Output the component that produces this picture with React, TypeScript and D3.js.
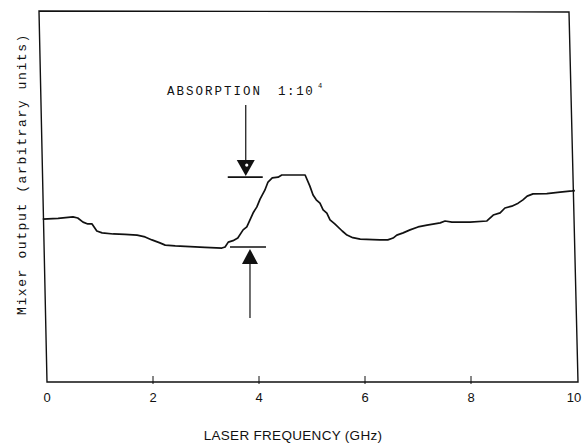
import React from "react";
import * as d3 from "d3";

// Laser frequency (GHz)
const freq = [
  -0.08, 0.21, 0.49, 0.58, 0.68, 0.77, 0.85, 0.94, 1.04, 1.25, 1.47, 1.7, 1.85, 1.98, 2.13, 2.23,
  2.42, 2.7, 2.98, 3.3, 3.36, 3.42, 3.51, 3.6, 3.7, 3.77, 3.89, 3.96, 4.02, 4.11, 4.17, 4.25,
  4.36, 4.43, 4.68, 4.87, 4.96, 5.02, 5.08, 5.15, 5.21, 5.28, 5.34, 5.43, 5.57, 5.66, 5.77, 5.91,
  6.15, 6.28, 6.43, 6.53, 6.6, 6.72, 6.85, 7.0, 7.17, 7.42, 7.51, 7.64, 7.98, 8.3, 8.42, 8.55,
  8.64, 8.77, 8.89, 8.98, 9.06, 9.17, 9.43, 9.68, 9.91, 9.96,
];
// Mixer output (arbitrary units)
const output = [
  4.39, 4.41, 4.45, 4.42, 4.31, 4.26, 4.26, 4.07, 4.02, 3.99, 3.98, 3.96, 3.91, 3.83, 3.75, 3.69,
  3.67, 3.65, 3.63, 3.61, 3.64, 3.77, 3.81, 3.88, 4.1, 4.18, 4.56, 4.72, 4.93, 5.17, 5.39, 5.5,
  5.52, 5.58, 5.58, 5.58, 5.28, 5.04, 4.91, 4.82, 4.64, 4.55, 4.37, 4.26, 4.07, 3.96, 3.89, 3.85,
  3.84, 3.83, 3.83, 3.88, 3.96, 4.02, 4.1, 4.18, 4.23, 4.29, 4.34, 4.31, 4.31, 4.34, 4.5, 4.56,
  4.69, 4.74, 4.82, 4.91, 5.01, 5.07, 5.08, 5.12, 5.15, 5.16,
];
const xTicks = [0, 2, 4, 6, 8, 10];
const xMinorTicks = [2, 4, 6, 8];
// absorption markers: [frequency, level]
const markerTop = [3.75, 5.55];
const markerBottom = [3.83, 3.64];

const W = 585;
const H = 443;

export default function App() {
  const x = d3.scaleLinear().domain([0, 10]).range([47, 577]);
  const y = d3.scaleLinear().domain([0, 10]).range([382, 11]);
  const pts: [number, number][] = freq.map((f, i) => [f, output[i]]);
  const line = d3
    .line<[number, number]>()
    .x((d) => x(d[0]))
    .y((d) => y(d[1]))
    .curve(d3.curveLinear);

  const x0 = x(0), x1 = x(10), yb = y(0), yt = y(10);
  const frame = `M${x0 - 8},${yt} L${x1 - 8},${yt + 1} L${x1 + 1},${yb} L${x0},${yb} Z`;

  const mono = "'Liberation Mono', 'DejaVu Sans Mono', monospace";
  const sans = "'Liberation Sans', Arial, sans-serif";

  const tx = x(markerTop[0]);
  const ty = y(markerTop[1]);
  const bx = x(markerBottom[0]);
  const by = y(markerBottom[1]);

  return (
    <svg
      width={W}
      height={H}
      style={{ position: "absolute", left: 0, top: 0, background: "#fff" }}
    >
      <rect width={W} height={H} fill="#fff" />
      <path d={frame} fill="none" stroke="#111" strokeWidth={1.4} />
      {xMinorTicks.map((t) => (
        <line key={t} x1={x(t)} x2={x(t)} y1={yb - 6} y2={yb + 2} stroke="#111" strokeWidth={1} />
      ))}
      {xTicks.map((t) => (
        <text
          key={t}
          x={x(t) - (t === 10 ? 3 : 0)}
          y={yb + 20}
          textAnchor="middle"
          fontFamily={sans}
          fontSize={13}
          fill="#111"
        >
          {t}
        </text>
      ))}
      <path d={line(pts) || ""} fill="none" stroke="#111" strokeWidth={1.7} strokeLinejoin="round" />

      {/* top marker */}
      <line x1={tx} x2={tx} y1={105} y2={ty - 14} stroke="#111" strokeWidth={1.2} />
      <path d={`M${tx - 9},${ty - 16} L${tx + 9},${ty - 16} L${tx},${ty} Z`} fill="#111" />
      <circle cx={tx + 1} cy={ty - 11} r={1.6} fill="#fff" />
      <line x1={tx - 18} x2={tx + 17} y1={ty + 1} y2={ty + 1} stroke="#111" strokeWidth={1.6} />

      {/* bottom marker */}
      <line x1={bx - 20} x2={bx + 16} y1={by} y2={by} stroke="#111" strokeWidth={1.6} />
      <path d={`M${bx},${by + 2} L${bx + 8},${by + 17} L${bx - 8},${by + 17} Z`} fill="#111" />
      <line x1={bx} x2={bx} y1={by + 16} y2={318} stroke="#111" strokeWidth={1.2} />

      <text x={167} y={95} fontFamily={mono} fontSize={12.5} letterSpacing={2} fill="#111">
        ABSORPTION
      </text>
      <text x={278} y={95} fontFamily={mono} fontSize={12.5} letterSpacing={1.6} fill="#111">
        1:10
      </text>
      <text x={318} y={88} fontFamily={mono} fontSize={7} fill="#111">
        4
      </text>

      <text
        x={293}
        y={440}
        textAnchor="middle"
        fontFamily={sans}
        fontSize={13.5}
        letterSpacing={0.3}
        fill="#111"
      >
        LASER FREQUENCY (GHz)
      </text>
      <text
        transform={`translate(26,174) rotate(-90)`}
        textAnchor="middle"
        fontFamily={mono}
        fontSize={13}
        letterSpacing={1.6}
        fill="#111"
      >
        Mixer output (arbitrary units)
      </text>
    </svg>
  );
}
